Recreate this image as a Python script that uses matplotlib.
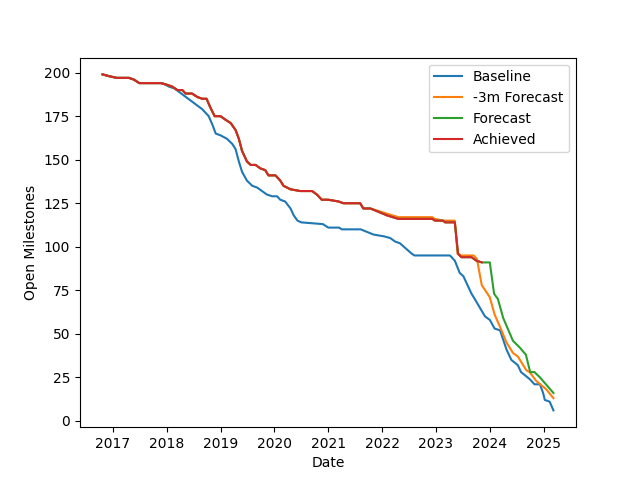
import datetime as dt
import matplotlib
matplotlib.use("Agg")
import matplotlib.pyplot as plt


def to_date(y):
    year = int(y)
    start = dt.datetime(year, 1, 1)
    return start + dt.timedelta(days=(y - year) * 365.25)


# decimal years / open milestones
baseline_t = [2016.81, 2016.93, 2017.07, 2017.30, 2017.39, 2017.49, 2017.85, 2017.92,
              2018.04, 2018.14, 2018.66, 2018.72, 2018.78, 2018.85, 2018.91, 2019.00,
              2019.12, 2019.22, 2019.28, 2019.34, 2019.40, 2019.49, 2019.59, 2019.68,
              2019.77, 2019.86, 2019.96, 2020.05, 2020.11, 2020.20, 2020.30, 2020.36,
              2020.43, 2020.50, 2020.90, 2021.00, 2021.20, 2021.25, 2021.60, 2021.84,
              2022.03, 2022.15, 2022.24, 2022.33, 2022.55, 2022.60, 2023.26, 2023.35,
              2023.44, 2023.51, 2023.66, 2023.72, 2023.91, 2024.00, 2024.09, 2024.19,
              2024.31, 2024.40, 2024.52, 2024.58, 2024.74, 2024.83, 2024.93, 2024.99,
              2025.02, 2025.11, 2025.18]
baseline_v = [199, 198, 197, 197, 196, 194, 194, 194,
              192, 191, 179, 177, 175, 170, 165, 164,
              162, 159, 156, 149, 143, 138, 135, 134,
              132, 130, 129, 129, 127, 126, 122, 118,
              115, 114, 113, 111, 111, 110, 110, 107,
              106, 105, 103, 102, 96, 95, 95, 92,
              85, 83, 73, 70, 60, 58, 53, 52,
              41, 35, 32, 28, 24, 21, 21, 16,
              12, 11, 6]

achieved_t = [2016.81, 2016.93, 2017.07, 2017.30, 2017.39, 2017.49, 2017.89, 2018.01,
              2018.10, 2018.20, 2018.29, 2018.35, 2018.47, 2018.57, 2018.66, 2018.74,
              2018.81, 2018.89, 2019.00, 2019.09, 2019.19, 2019.28, 2019.34, 2019.40,
              2019.49, 2019.56, 2019.65, 2019.74, 2019.83, 2019.89, 2020.02, 2020.11,
              2020.17, 2020.30, 2020.48, 2020.70, 2020.79, 2020.88, 2021.00, 2021.19,
              2021.28, 2021.59, 2021.65, 2021.78, 2022.09, 2022.30, 2022.93, 2022.98,
              2023.13, 2023.17, 2023.35, 2023.41, 2023.47, 2023.66, 2023.75, 2023.85]
achieved_v = [199, 198, 197, 197, 196, 194, 194, 193,
              192, 190, 190, 188, 188, 186, 185, 185,
              180, 175, 175, 173, 171, 167, 162, 155,
              149, 147, 147, 145, 144, 141, 141, 138,
              135, 133, 132, 132, 130, 127, 127, 126,
              125, 125, 122, 122, 118, 116, 116, 115,
              115, 114, 114, 96, 94, 94, 92, 91]

forecast_3m_t = achieved_t[:43] + [2021.78, 2022.09, 2022.30, 2022.93, 2022.98, 2023.13,
                                   2023.17, 2023.35, 2023.40, 2023.47, 2023.70, 2023.76,
                                   2023.85, 2024.00, 2024.09, 2024.19, 2024.31, 2024.43,
                                   2024.52, 2024.68, 2024.74, 2024.86, 2025.05, 2025.18]
forecast_3m_v = achieved_v[:43] + [122, 119, 117, 117, 116, 115,
                                   115, 115, 96, 95, 95, 93,
                                   78, 71, 61, 54, 45, 39,
                                   37, 29, 28, 23, 18, 13]

forecast_t = achieved_t + [2024.00, 2024.08, 2024.15, 2024.25, 2024.43, 2024.56,
                           2024.67, 2024.75, 2024.83, 2024.93, 2025.18]
forecast_v = achieved_v + [91, 73, 70, 59, 46, 42,
                           38, 28, 28, 25, 16]

fig, ax = plt.subplots(figsize=(6.4, 4.8), dpi=100)
ax.plot([to_date(t) for t in baseline_t], baseline_v, label="Baseline")
ax.plot([to_date(t) for t in forecast_3m_t], forecast_3m_v, label="-3m Forecast")
ax.plot([to_date(t) for t in forecast_t], forecast_v, label="Forecast")
ax.plot([to_date(t) for t in achieved_t], achieved_v, label="Achieved")
ax.set_xlabel("Date")
ax.set_ylabel("Open Milestones")
ax.legend(loc="upper right")
fig.savefig("out.png")
